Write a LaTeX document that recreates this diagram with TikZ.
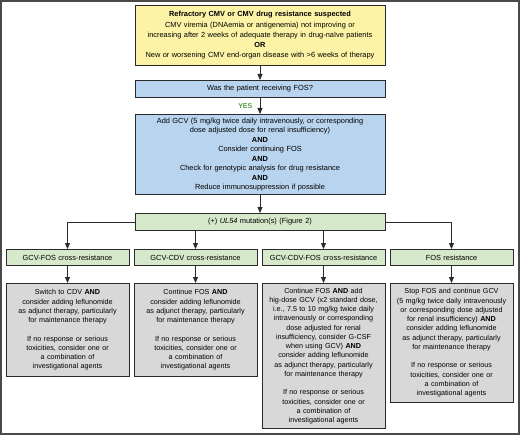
\documentclass[tikz,border=0pt]{standalone}
\usepackage{fontspec}
\setmainfont{Liberation Sans}
\usetikzlibrary{arrows.meta}
\definecolor{yelfill}{HTML}{FCF3A6}
\definecolor{bluefill}{HTML}{B9D4EE}
\definecolor{greenfill}{HTML}{D6E9CA}
\definecolor{grayfill}{HTML}{D8D8D8}
\definecolor{edge}{HTML}{2A2A2A}
\definecolor{framecol}{HTML}{4A4A4A}
\definecolor{yesgreen}{HTML}{4E9A3C}
\begin{document}
\begin{tikzpicture}[x=1pt,y=-1pt,
  box/.style={draw=edge, line width=0.8pt, rectangle, align=center, inner sep=2pt, anchor=north},
  bigfont/.style={font=\fontsize{7.4}{10.2}\selectfont},
  midfont/.style={font=\fontsize{7.4}{9.5}\selectfont},
  smallfont/.style={font=\fontsize{7.2}{9.25}\selectfont},
  widebox/.style={box, minimum width=250pt, text width=246pt},
  colbox/.style={box, minimum width=121pt, text width=119pt},
  arr/.style={draw=edge, line width=0.8pt, -{Triangle[length=6pt,width=5pt]}}
]
\useasboundingbox (0,0) rectangle (520,436);
\draw[framecol, line width=1.2pt] (1,1) rectangle (519,434);

\node[widebox, bigfont, fill=yelfill, minimum height=60pt] (top) at (260,5)
  {\textbf{Refractory CMV or CMV drug resistance suspected}\\
   CMV viremia (DNAemia or antigenemia) not improving or\\
   increasing after 2 weeks of adequate therapy in drug-naïve patients\\
   \textbf{OR}\\
   New or worsening CMV end-organ disease with >6 weeks of therapy};

\node[widebox, bigfont, fill=bluefill, minimum height=17pt] (q) at (260,80)
  {Was the patient receiving FOS?};

\node[widebox, midfont, fill=bluefill, minimum height=80pt] (act) at (260,114)
  {Add GCV (5 mg/kg twice daily intravenously, or corresponding\\
   dose adjusted dose for renal insufficiency)\\
   \textbf{AND}\\
   Consider continuing FOS\\
   \textbf{AND}\\
   Check for genotypic analysis for drug resistance\\
   \textbf{AND}\\
   Reduce immunosuppression if possible};

\node[widebox, bigfont, fill=greenfill, minimum height=17pt] (mut) at (260,213)
  {(+) \textit{UL54} mutation(s) (Figure 2)};

\foreach \n/\x/\t in {m1/67.5/GCV-FOS cross-resistance, m2/195.5/GCV-CDV cross-resistance,
                      m3/323.5/GCV-CDV-FOS cross-resistance, m4/451.5/FOS resistance}
  \node[colbox, bigfont, fill=greenfill, minimum height=16pt] (\n) at (\x,249) {\t};

\node[colbox, smallfont, fill=grayfill, minimum height=93pt] (b1) at (67.5,283)
  {Switch to CDV \textbf{AND}\\
   consider adding leflunomide\\
   as adjunct therapy, particularly\\
   for maintenance therapy\\[9.25pt]
   If no response or serious\\
   toxicities, consider one or\\
   a combination of\\
   investigational agents};

\node[colbox, smallfont, fill=grayfill, minimum height=93pt] (b2) at (195.5,283)
  {Continue FOS \textbf{AND}\\
   consider adding leflunomide\\
   as adjunct therapy, particularly\\
   for maintenance therapy\\[9.25pt]
   If no response or serious\\
   toxicities, consider one or\\
   a combination of\\
   investigational agents};

\node[colbox, smallfont, fill=grayfill, minimum height=145pt] (b3) at (323.5,283)
  {Continue FOS \textbf{AND} add\\
   hig-dose GCV (x2 standard dose,\\
   i.e., 7.5 to 10 mg/kg twice daily\\
   intravenously or corresponding\\
   dose adjusted for renal\\
   insufficiency, consider G-CSF\\
   when using GCV) \textbf{AND}\\
   consider adding leflunomide\\
   as adjunct therapy, particularly\\
   for maintenance therapy\\[9.25pt]
   If no response or serious\\
   toxicities, consider one or\\
   a combination of\\
   investigational agents};

\node[colbox, smallfont, fill=grayfill, minimum height=119pt] (b4) at (451.5,283)
  {Stop FOS and continue GCV\\
   (5 mg/kg twice daily intravenously\\
   or corresponding dose adjusted\\
   for renal insufficiency) \textbf{AND}\\
   consider adding leflunomide\\
   as adjunct therapy, particularly\\
   for maintenance therapy\\[9.25pt]
   If no response or serious\\
   toxicities, consider one or\\
   a combination of\\
   investigational agents};

\draw[arr] (top) -- (q);
\draw[arr] (q) -- (act) node[midway, left=4pt, text=yesgreen, font=\fontsize{7}{8}\selectfont\bfseries] (yes) {YES};
\draw[arr] (act) -- (mut);
\draw[arr] (mut.west) -| (m1.north);
\draw[arr] (mut.east) -| (m4.north);
\draw[arr] (mut.south -| m2.north) -- (m2.north);
\draw[arr] (mut.south -| m3.north) -- (m3.north);
\foreach \i in {1,2,3,4} \draw[arr] (m\i) -- (b\i);
\end{tikzpicture}
\end{document}
